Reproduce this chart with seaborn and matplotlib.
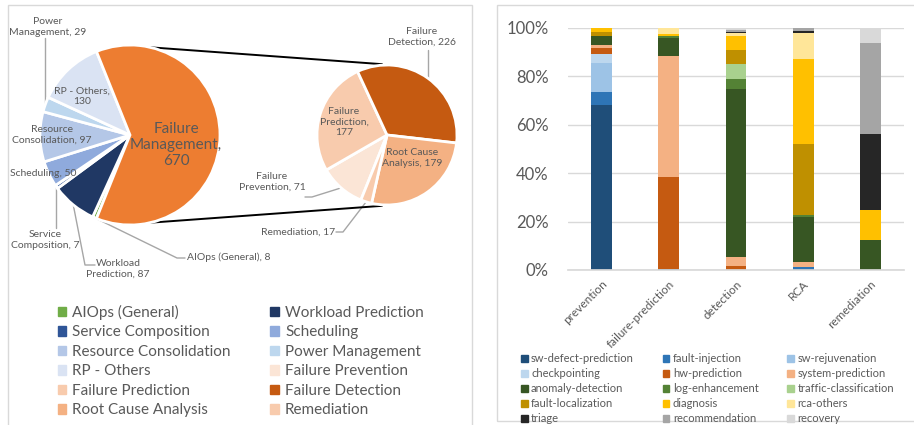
import numpy as np
import pandas as pd
import matplotlib.pyplot as plt
import seaborn as sns
from matplotlib.patches import Patch, Rectangle

sns.set_theme(style="white")
plt.rcParams["font.family"] = ["Lato", "DejaVu Sans"]

# ---- left panel data: pie of pie ----
area_labels = ["AIOps (General)", "Workload Prediction", "Service Composition", "Scheduling",
               "Resource Consolidation", "Power Management", "RP - Others"]
area_counts = [8, 87, 7, 50, 97, 29, 130]
area_colors = ["#70AD47", "#203864", "#2F5597", "#8FAADC", "#B4C7E7", "#BDD7EE", "#DAE3F3"]

fm_name = "Failure Management"
fm_color = "#ED7D31"
fm_labels = ["Failure Prevention", "Failure Prediction", "Failure Detection",
             "Root Cause Analysis", "Remediation"]
fm_counts = [71, 177, 226, 179, 17]
fm_colors = ["#FBE5D6", "#F8CBAD", "#C55A11", "#F4B183", "#F8CBAD"]

# ---- right panel data: 100% stacked bars (share in %) ----
categories = ["prevention", "failure-prediction", "detection", "RCA", "remediation"]
techniques = ["sw-defect-prediction", "fault-injection", "sw-rejuvenation",
              "checkpointing", "hw-prediction", "system-prediction",
              "anomaly-detection", "log-enhancement", "traffic-classification",
              "fault-localization", "diagnosis", "rca-others",
              "triage", "recommendation", "recovery"]
tech_colors = ["#1F4E79", "#2E75B6", "#9DC3E6",
               "#BDD7EE", "#C55A11", "#F4B183",
               "#375623", "#548235", "#A9D18E",
               "#BF9000", "#FFC000", "#FFE699",
               "#262626", "#A5A5A5", "#D9D9D9"]
sw_defect_prediction = [68.3, 0.6, 0.0, 0.3, 0.0]
fault_injection = [5.2, 0.0, 0.0, 0.8, 0.0]
sw_rejuvenation = [11.9, 0.0, 0.0, 0.0, 0.0]
checkpointing = [3.9, 0.0, 0.0, 0.0, 0.0]
hw_prediction = [2.5, 37.9, 1.8, 0.0, 0.0]
system_prediction = [1.3, 50.1, 3.4, 2.3, 0.0]
anomaly_detection = [3.7, 7.1, 69.4, 18.3, 12.5]
log_enhancement = [0.0, 0.9, 4.4, 1.0, 0.0]
traffic_classification = [0.0, 0.0, 6.2, 0.0, 0.0]
fault_localization = [1.7, 0.0, 5.9, 29.2, 0.0]
diagnosis = [1.5, 1.0, 5.8, 35.1, 12.5]
rca_others = [0.0, 2.4, 1.1, 10.9, 0.0]
triage = [0.0, 0.0, 0.5, 1.0, 31.25]
recommendation = [0.0, 0.0, 0.8, 1.1, 37.5]
recovery = [0.0, 0.0, 0.7, 0.0, 6.25]
shares = [sw_defect_prediction, fault_injection, sw_rejuvenation, checkpointing,
          hw_prediction, system_prediction, anomaly_detection, log_enhancement,
          traffic_classification, fault_localization, diagnosis, rca_others,
          triage, recommendation, recovery]

TXT = "#595959"
W, H = 914, 425
fig = plt.figure(figsize=(W / 100, H / 100), dpi=100)
base = fig.add_axes([0, 0, 1, 1])


def P(x, y):
    # image pixel coords (y down) -> base axes coords (y up)
    return (x, H - y)


def row_major(items, ncol):
    # matplotlib fills legend columns first; reorder so rows read left to right
    return [items[i] for c in range(ncol) for i in range(c, len(items), ncol)]


# panel frames
base.add_patch(Rectangle(P(8, 440), 464, 435, fill=False, ec="#D9D9D9", lw=1))
base.add_patch(Rectangle(P(497, 421), 430, 416, fill=False, ec="#D9D9D9", lw=1))

# -------------------------------
# pies
# -------------------------------
vals1 = area_counts + [sum(fm_counts)]
start = -360 * sum(fm_counts) / sum(vals1) / 2
wp = dict(edgecolor="white", linewidth=2)
w1, _ = base.pie(vals1, colors=area_colors + [fm_color], startangle=start,
                 counterclock=False, center=P(130, 135), radius=90, wedgeprops=wp)
w2, _ = base.pie(fm_counts, colors=fm_colors, startangle=start,
                 counterclock=False, center=P(387, 135), radius=70, wedgeprops=wp)


def edge_pt(w, ang=None):
    cx, cy = w.center
    a = np.deg2rad((w.theta1 + w.theta2) / 2 if ang is None else ang)
    return cx + w.r * np.cos(a), cy + w.r * np.sin(a)


def leader(w, pts):
    x0, y0 = edge_pt(w)
    xs, ys = [x0], [y0]
    for px, py in pts:
        xs.append(x0 if px is None else px)
        ys.append(H - py)
    base.plot(xs, ys, color="#A6A6A6", lw=1, zorder=0.5)


def lab(x, y, s, size=7.5, ha="center"):
    base.text(*P(x, y), s, ha=ha, va="center", fontsize=size, color=TXT,
              linespacing=1.15)


# connector lines between the pies
fm_w = w1[-1]
for sgn in (1, -1):
    xa, ya = edge_pt(fm_w, sgn * 77)
    cx, cy = w2[0].center
    a = np.deg2rad(sgn * 94)
    base.plot([xa, cx + 71 * np.cos(a)], [ya, cy + 71 * np.sin(a)], color="black", lw=1.4, zorder=0.6)

# labels, left pie
lab(176, 145, "Failure\nManagement,\n670", size=11)
lab(82, 96, "RP - Others,\n130")
lab(52, 135, "Resource\nConsolidation, 97")
lab(43, 173, "Scheduling, 50")
lab(48, 27, "Power\nManagement, 29")
leader(w1[5], [(None, 38)])
lab(45, 240, "Service\nComposition, 7")
leader(w1[2], [(None, 228)])
lab(118, 269, "Workload\nPrediction, 87")
leader(w1[1], [(85, 265), (95, 265)])
lab(187, 257, "AIOps (General), 8", ha="left")
leader(w1[0], [(177, 258), (185, 258)])

# labels, right pie
lab(422, 37, "Failure\nDetection, 226")
leader(w2[2], [(None, 50)])
lab(344, 122, "Failure\nPrediction,\n177")
lab(412, 158, "Root Cause\nAnalysis, 179")
lab(272, 182, "Failure\nPrevention, 71")
leader(w2[0], [(312, 197), (305, 197)])
lab(298, 232, "Remediation, 17")
leader(w2[4], [(343, 232), (336, 232)])

leg_labels = area_labels + fm_labels
leg_colors = area_colors + fm_colors
handles = [Patch(color=c) for c in leg_colors]
leg1 = base.legend(row_major(handles, 2), row_major(leg_labels, 2), ncol=2,
                   loc="upper left", bbox_to_anchor=P(44, 291),
                   bbox_transform=base.transData, frameon=False, fontsize=11, labelcolor=TXT,
                   handlelength=0.55, handleheight=0.55, handletextpad=0.4,
                   labelspacing=0.36, columnspacing=2.6)
base.add_artist(leg1)

base.set_xlim(0, W)
base.set_ylim(0, H)
base.set_aspect("auto")
base.axis("off")

# -------------------------------
# stacked bars
# -------------------------------
long = pd.DataFrame([(c, t, v) for t, vals in zip(techniques, shares)
                     for c, v in zip(categories, vals)],
                    columns=["category", "technique", "share"])
axb = fig.add_axes([568 / W, (H - 270) / H, (904 - 568) / W, (270 - 28) / H])
# seaborn puts the first hue level on top of the stack, so reverse it
sns.histplot(data=long, x="category", hue="technique", weights="share",
             multiple="fill", discrete=True, shrink=0.31, hue_order=techniques[::-1],
             palette=dict(zip(techniques, tech_colors)), linewidth=0, alpha=1,
             legend=False, ax=axb)
axb.set_xlim(-0.5, len(categories) - 0.5)
axb.set_ylim(0, 1)
axb.set_yticks(np.arange(0, 1.01, 0.2))
axb.set_yticklabels([f"{int(round(v * 100))}%" for v in np.arange(0, 1.01, 0.2)])
axb.set_xticks(range(len(categories)))
axb.set_xticklabels(categories, rotation=45, ha="right", rotation_mode="anchor")
axb.tick_params(axis="y", length=0, pad=14, labelsize=12, labelcolor=TXT)
axb.tick_params(axis="x", length=0, pad=6, labelsize=8.5, labelcolor=TXT)
axb.set_xlabel("")
axb.set_ylabel("")
axb.yaxis.grid(True, color="#D9D9D9", lw=1)
axb.set_axisbelow(True)
for s in ["left", "right", "top"]:
    axb.spines[s].set_visible(False)
axb.spines["bottom"].set_color("#D9D9D9")

bh = [Patch(color=c) for c in tech_colors]
base.legend(row_major(bh, 3), row_major(techniques, 3), ncol=3, loc="upper left",
            bbox_to_anchor=P(511, 343),
            bbox_transform=base.transData, frameon=False, fontsize=8, labelcolor=TXT,
            handlelength=0.6, handleheight=0.6, handletextpad=0.3,
            labelspacing=0.36, columnspacing=2.6)
fig.savefig("out.png", dpi=100)
